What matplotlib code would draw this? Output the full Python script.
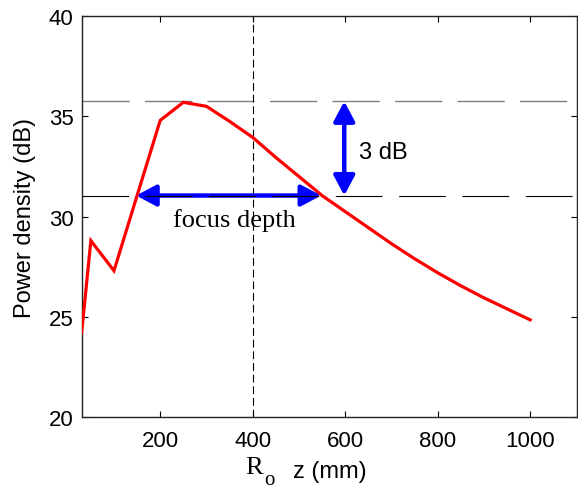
import numpy as np
import matplotlib
matplotlib.use("Agg")
import matplotlib.pyplot as plt
from matplotlib.patches import FancyArrowPatch

# power density along the axis
z_mm = [30, 50, 100, 150, 200, 250, 300, 350, 400, 450, 500, 550,
        600, 650, 700, 750, 800, 850, 900, 950, 1000]
power_db = [24.2, 28.8, 27.3, 31.05, 34.8, 35.7, 35.5, 34.75, 33.95, 32.95,
            32.0, 31.05, 30.25, 29.45, 28.65, 27.9, 27.2, 26.55, 25.95, 25.4, 24.85]

peak_db = 35.75
minus3_db = 31.05
focus_z = 400
depth_z = [148, 548]
arrow3_z = 598

xticks = [200, 400, 600, 800, 1000]
yticks = [20, 25, 30, 35, 40]

sans = ["Liberation Sans", "DejaVu Sans"]
serif = ["Liberation Serif", "DejaVu Serif"]
plt.rcParams["font.family"] = sans

fig = plt.figure(figsize=(5.78, 4.89), dpi=100)
ax = fig.add_axes([0.142, 0.145, 0.856, 0.820])

ax.plot(z_mm, power_db, color="red", lw=2.3, zorder=3, solid_joinstyle="miter")

# reference lines
l1 = ax.axhline(peak_db, color="#7f7f7f", lw=1.0, zorder=2)
l1.set_dashes((34, 11))
l2 = ax.axhline(minus3_db, color="black", lw=0.8, zorder=5)
l2.set_dashes((42, 15))
l3 = ax.axvline(focus_z, color="black", lw=0.8, zorder=2)
l3.set_dashes((7, 3.5))

# blue arrows
arr_h = FancyArrowPatch((depth_z[0], minus3_db), (depth_z[1], minus3_db),
                        arrowstyle="<|-|>,head_length=0.6,head_width=0.32",
                        mutation_scale=20, color="blue", lw=3.2,
                        shrinkA=0, shrinkB=0, zorder=4)
ax.add_patch(arr_h)
arr_v = FancyArrowPatch((arrow3_z, peak_db), (arrow3_z, minus3_db),
                        arrowstyle="<|-|>,head_length=0.6,head_width=0.32",
                        mutation_scale=20, color="blue", lw=3.2,
                        shrinkA=0, shrinkB=0, zorder=4)
ax.add_patch(arr_v)

ax.text(630, 33.2, "3 dB", fontsize=17, va="center", ha="left")
ax.text(360, 29.85, "focus depth", fontsize=19, family=serif,
        va="center", ha="center")

ax.set_xlim(31, 1101)
ax.set_ylim(20, 40)
ax.set_xticks(xticks)
ax.set_yticks(yticks)
ax.tick_params(direction="in", length=4, width=0.8, labelsize=16,
               top=True, right=True)
ax.tick_params(axis="x", pad=9)
ax.tick_params(axis="y", pad=6)
for s in ax.spines.values():
    s.set_linewidth(1.0)
    s.set_color("#222222")

ax.set_ylabel("Power density (dB)", fontsize=17, labelpad=9)
ax.set_xlabel("z (mm)", fontsize=17, labelpad=7)
fig.text(0.424, 0.03, "R", fontsize=19, family=serif, ha="left", va="baseline")
fig.text(0.458, 0.008, "o", fontsize=15, family=serif, ha="left", va="baseline")

fig.savefig("out.png", dpi=100)
